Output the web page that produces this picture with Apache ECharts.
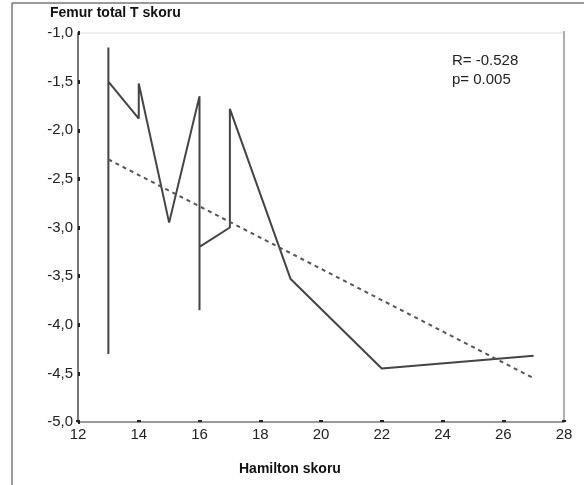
<!DOCTYPE html>
<html>
<head>
<meta charset="utf-8">
<script src="https://cdn.jsdelivr.net/npm/echarts@6/dist/echarts.min.js"></script>
<style>html,body{margin:0;padding:0;background:#fff}#c{width:584px;height:485px}</style>
</head>
<body>
<div id="c"></div>
<script>
const hamilton = [13, 13, 13, 14, 14, 15, 16, 16, 16, 17, 17, 19, 22, 27];
const femurT = [-4.3, -1.15, -1.5, -1.88, -1.52, -2.95, -1.65, -3.85, -3.2, -3.0, -1.78, -3.53, -4.45, -4.32];
const fitX = [13, 27];
const fitY = [-2.3, -4.55];
const xTicks = [12, 14, 16, 18, 20, 22, 24, 26, 28];
const yTicks = [-5.0, -4.5, -4.0, -3.5, -3.0, -2.5, -2.0, -1.5, -1.0];
const statR = 'R= -0.528';
const statP = 'p= 0.005';

const chart = echarts.init(document.getElementById('c'));
const font = '"Liberation Sans", Arial, sans-serif';
chart.setOption({
  animation: false,
  backgroundColor: '#fff',
  grid: { left: 78, right: 20, top: 33, bottom: 63, show: true, borderColor: '#ddd', borderWidth: 1 },
  xAxis: {
    type: 'value', min: xTicks[0], max: xTicks[xTicks.length - 1], interval: 2,
    axisLine: { lineStyle: { color: '#999', width: 2 } },
    axisTick: { show: true, length: 2, inside: true, lineStyle: { color: '#222', width: 4 } },
    axisLabel: { color: '#222', fontFamily: font, fontSize: 15, margin: 5 },
    splitLine: { show: false }
  },
  yAxis: {
    type: 'value', min: yTicks[0], max: yTicks[yTicks.length - 1], interval: 0.5,
    axisLine: { onZero: false, lineStyle: { color: '#777', width: 2 } },
    axisTick: { show: true, length: 2, inside: true, lineStyle: { color: '#222', width: 4 } },
    axisLabel: { color: '#222', fontFamily: font, fontSize: 15, margin: 5,
      formatter: v => v.toFixed(1).replace('.', ',') },
    splitLine: { show: false }
  },
  series: [
    { type: 'line', data: hamilton.map((x, i) => [x, femurT[i]]), showSymbol: false,
      lineStyle: { color: '#444', width: 2 } },
    { type: 'line', data: fitX.map((x, i) => [x, fitY[i]]), showSymbol: false,
      lineStyle: { color: '#555', width: 2, type: [4, 4] } }
  ],
  graphic: [
    { type: 'line', shape: { x1: 12, y1: 3, x2: 584, y2: 3 }, style: { stroke: '#777', lineWidth: 1.5 } },
    { type: 'line', shape: { x1: 12, y1: 3, x2: 12, y2: 485 }, style: { stroke: '#777', lineWidth: 1.5 } },
    { type: 'line', shape: { x1: 564, y1: 31, x2: 564, y2: 422 }, style: { stroke: '#999', lineWidth: 1.5 } },
    { type: 'text', left: 50, top: 6, style: { text: 'Femur total T skoru', font: 'bold 14px ' + font, fill: '#111' } },
    { type: 'text', left: 239, top: 462, style: { text: 'Hamilton skoru', font: 'bold 14px ' + font, fill: '#111' } },
    { type: 'text', left: 452, top: 53, style: { text: statR, font: '15px ' + font, fill: '#222' } },
    { type: 'text', left: 452, top: 72, style: { text: statP, font: '15px ' + font, fill: '#222' } }
  ]
});
</script>
</body>
</html>
